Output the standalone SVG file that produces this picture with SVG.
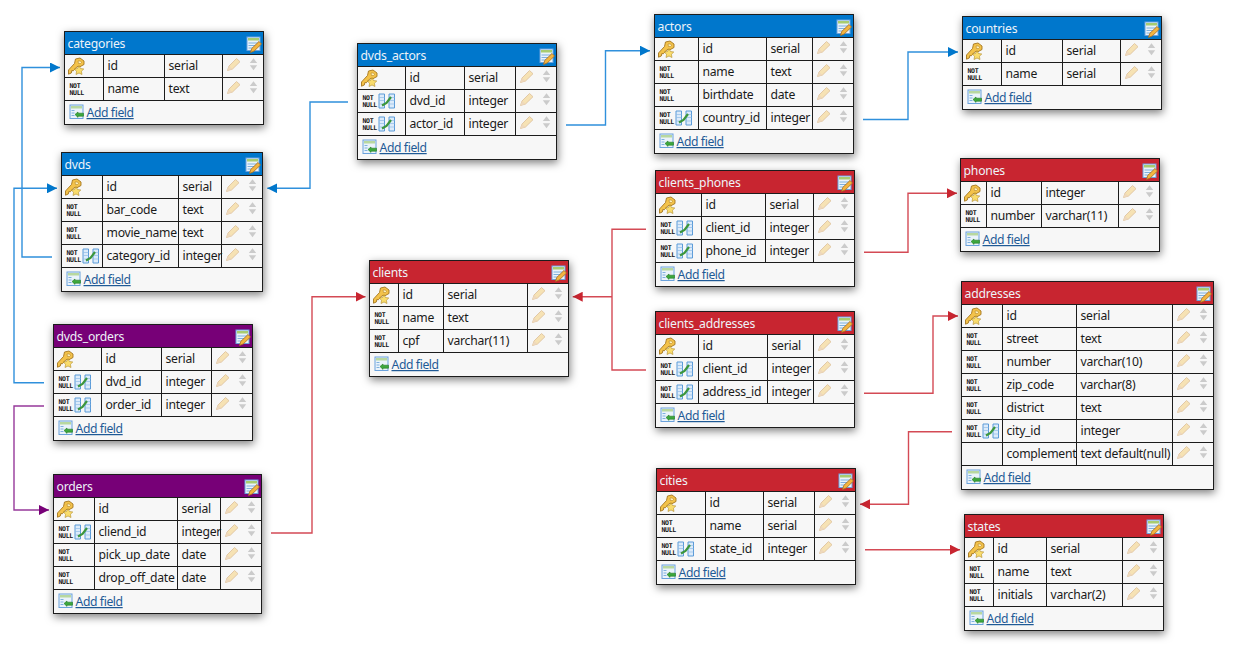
<svg xmlns="http://www.w3.org/2000/svg" width="1237" height="648" viewBox="0 0 1237 648">
<style>
text{font-family:"Noto Sans","Open Sans",sans-serif;font-size:12.2px;letter-spacing:-.25px;fill:#1a1a1a}
.title{fill:#eef3f8;font-size:12.2px;letter-spacing:-.2px}
.nn{font-family:"DejaVu Sans Mono",monospace;font-size:6.500px;font-weight:700;fill:#111;letter-spacing:-.35px}
.add{fill:#1f5a96;text-decoration:underline;letter-spacing:-.4px}
.box{fill:#f7f7f7;stroke:#2a2a2a;stroke-width:1;filter:url(#sh)}
.grid{fill:none;stroke:#1c1c1c;stroke-width:1}
.blue{fill:#0077cc}.red{fill:#c82530}.pur{fill:#770077}
.lb,.lr,.lp{fill:none;stroke-width:1.4}
.lb{stroke:#2f90dc}.lr{stroke:#d44a55}.lp{stroke:#96399a}
</style>
<defs>
<filter id="sh" x="-20%" y="-20%" width="140%" height="140%"><feDropShadow dx="1" dy="3" stdDeviation="4" flood-color="#000" flood-opacity=".5"/></filter>
<marker id="ab" markerUnits="userSpaceOnUse" markerWidth="10" markerHeight="10" refX="10" refY="5" orient="auto"><path d="M0 0L10 5L0 10z" fill="#0077cc"/></marker>
<marker id="ar" markerUnits="userSpaceOnUse" markerWidth="10" markerHeight="10" refX="10" refY="5" orient="auto"><path d="M0 0L10 5L0 10z" fill="#c82530"/></marker>
<marker id="ap" markerUnits="userSpaceOnUse" markerWidth="10" markerHeight="10" refX="10" refY="5" orient="auto"><path d="M0 0L10 5L0 10z" fill="#770077"/></marker>
<g id="key"><path d="M11 4.500L15.500 3.500L19.500 6.500V10L15.500 12.200H12.500L8.800 16.300L7.300 16L6.800 18.500L4 19.700V15.500L10 9z" fill="#f3c24a" stroke="#a5761e" stroke-width=".9"/><path d="M13.500 6.500h2.500l1 1.500-1 1h-2z" fill="#fff0b8" stroke="#a5761e" stroke-width=".5"/><path d="M14.500 11l1.500 3 3.300.5-2.400 2.300.6 3.200-3-1.500-3 1.500.6-3.200-2.400-2.300 3.300-.5z" fill="#f9dc6c" stroke="#b08a28" stroke-width=".6"/></g>
<g id="fk"><path d="M21.500 4.500h5.500v14h-5.500zM31.500 4.500h5.500v14h-5.500z" fill="#dcebfa" stroke="#5b9bd8"/><path d="M21.500 8h5.500M21.500 11h5.500M21.500 14.500h5.500M31.500 8h5.500M31.500 11h5.500M31.500 14.500h5.500" stroke="#8fbce6" stroke-width=".7"/><path d="M24.500 16L29 13.500 33.500 7.500" fill="none" stroke="#3c963c" stroke-width="2.200"/></g>
<g id="ctl"><path d="M5 16l1.500-4.500L14 4l3.500 3.200L10 14.500z" fill="#f6e2b4" stroke="#dfc4a0" stroke-width=".9"/><path d="M5 16l1.500-4.500 3.500 3z" fill="#eed8bc"/><path d="M27.300 8.500L31 3.800l3.700 4.700z M27.300 10.700L31 15.800l3.700-5.100z" fill="#cbcbcb"/></g>
<g id="edit"><rect x=".5" y=".5" width="13" height="13.500" fill="#eaf3fb" stroke="#6ba2dc"/><rect x="1.500" y="1.500" width="11" height="2.500" fill="#a8cc70"/><path d="M2 6.500h10M2 9h8M2 11.500h5" stroke="#7fb0de" stroke-width="1"/><path d="M4 16l1.200-4 7.300-7 2.500 2.500-7.300 7z" fill="#f2b540" stroke="#a36a20" stroke-width=".8"/></g>
<g id="af"><rect x="5.500" y="4.500" width="13" height="13.500" fill="#eaf3fb" stroke="#6ba2dc"/><rect x="6.500" y="5.500" width="11" height="2.500" fill="#b8d8a0"/><path d="M7 10h3M7 12.500h3M7 15h3" stroke="#7fb0de"/><path d="M10.500 14l3-2.500v1.200h5.500v3h-5.500v1.200z" fill="#3da83d" stroke="#227a22" stroke-width=".6"/></g>
</defs>
<rect width="1237" height="648" fill="#fff"/>
<g id="connectors">
<path class="lb" marker-end="url(#ab)" d="M52 257H22V67.500H60"/>
<path class="lb" marker-end="url(#ab)" d="M44 382.700H14V188.300H57"/>
<path class="lb" marker-end="url(#ab)" d="M348 102H310V188.300H267.300"/>
<path class="lb" marker-end="url(#ab)" d="M566 125H605.500V50.700H650"/>
<path class="lb" marker-end="url(#ab)" d="M863 119.500H908V52H958"/>
<path class="lp" marker-end="url(#ap)" d="M44 406H14V510H49"/>
<path class="lr" marker-end="url(#ar)" d="M271 533H312V296.700H365.500"/>
<path class="lr" marker-end="url(#ar)" d="M612 296.700H572.700"/>
<path class="lr" d="M646 229.300H612V370H646"/>
<path class="lr" marker-end="url(#ar)" d="M864 252.300H908V193.300H957"/>
<path class="lr" marker-end="url(#ar)" d="M864 393.300H933V316H958"/>
<path class="lr" marker-end="url(#ar)" d="M952 431.700H908.500V504.300H860"/>
<path class="lr" marker-end="url(#ar)" d="M865 549.700H960"/>
</g>
<g id="categories" transform="translate(64.500,31.500)">
<rect class="box" width="199" height="93"/><rect class="blue" width="199" height="23"/>
<path class="grid" d="M0 0H199V93H0zM0 23H199M0 46H199M0 69H199M39 23V69M100 23V69M158 23V69"/>
<use href="#edit" x="182" y="5"/>
<text class="title" x="3" y="16">categories</text>
<use href="#key" y="23"/><text x="43" y="38.500">id</text><text x="104" y="38.500">serial</text><use href="#ctl" x="158" y="23"/>
<text class="nn" x="5" y="56"><tspan>NOT</tspan><tspan x="5" dy="7">NULL</tspan></text><text x="43" y="61.500">name</text><text x="104" y="61.500">text</text><use href="#ctl" x="158" y="46"/>
<use href="#af" y="69"/><text class="add" x="22" y="85.500">Add field</text>
</g>
<g id="dvds" transform="translate(61.500,152.500)">
<rect class="box" width="201" height="139"/><rect class="blue" width="201" height="23"/>
<path class="grid" d="M0 0H201V139H0zM0 23H201M0 46H201M0 69H201M0 92H201M0 115H201M41 23V115M117 23V115M160 23V115"/>
<use href="#edit" x="184" y="5"/>
<text class="title" x="3" y="16">dvds</text>
<use href="#key" y="23"/><text x="45" y="38.500">id</text><text x="121" y="38.500">serial</text><use href="#ctl" x="160" y="23"/>
<text class="nn" x="5" y="56"><tspan>NOT</tspan><tspan x="5" dy="7">NULL</tspan></text><text x="45" y="61.500">bar_code</text><text x="121" y="61.500">text</text><use href="#ctl" x="160" y="46"/>
<text class="nn" x="5" y="79"><tspan>NOT</tspan><tspan x="5" dy="7">NULL</tspan></text><text x="45" y="84.500">movie_name</text><text x="121" y="84.500">text</text><use href="#ctl" x="160" y="69"/>
<text class="nn" x="5" y="102"><tspan>NOT</tspan><tspan x="5" dy="7">NULL</tspan></text><use href="#fk" y="92"/><text x="45" y="107.500">category_id</text><text x="121" y="107.500">integer</text><use href="#ctl" x="160" y="92"/>
<use href="#af" y="115"/><text class="add" x="22" y="131.500">Add field</text>
</g>
<g id="dvds_orders" transform="translate(53.500,324.500)">
<rect class="box" width="199" height="116"/><rect class="pur" width="199" height="23"/>
<path class="grid" d="M0 0H199V116H0zM0 23H199M0 46H199M0 69H199M0 92H199M48 23V92M108 23V92M158 23V92"/>
<use href="#edit" x="182" y="5"/>
<text class="title" x="3" y="16">dvds_orders</text>
<use href="#key" y="23"/><text x="52" y="38.500">id</text><text x="112" y="38.500">serial</text><use href="#ctl" x="158" y="23"/>
<text class="nn" x="5" y="56"><tspan>NOT</tspan><tspan x="5" dy="7">NULL</tspan></text><use href="#fk" y="46"/><text x="52" y="61.500">dvd_id</text><text x="112" y="61.500">integer</text><use href="#ctl" x="158" y="46"/>
<text class="nn" x="5" y="79"><tspan>NOT</tspan><tspan x="5" dy="7">NULL</tspan></text><use href="#fk" y="69"/><text x="52" y="84.500">order_id</text><text x="112" y="84.500">integer</text><use href="#ctl" x="158" y="69"/>
<use href="#af" y="92"/><text class="add" x="22" y="108.500">Add field</text>
</g>
<g id="orders" transform="translate(53.500,474.500)">
<rect class="box" width="208" height="139"/><rect class="pur" width="208" height="23"/>
<path class="grid" d="M0 0H208V139H0zM0 23H208M0 46H208M0 69H208M0 92H208M0 115H208M41 23V115M124 23V115M167 23V115"/>
<use href="#edit" x="191" y="5"/>
<text class="title" x="3" y="16">orders</text>
<use href="#key" y="23"/><text x="45" y="38.500">id</text><text x="128" y="38.500">serial</text><use href="#ctl" x="167" y="23"/>
<text class="nn" x="5" y="56"><tspan>NOT</tspan><tspan x="5" dy="7">NULL</tspan></text><use href="#fk" y="46"/><text x="45" y="61.500">cliend_id</text><text x="128" y="61.500">integer</text><use href="#ctl" x="167" y="46"/>
<text class="nn" x="5" y="79"><tspan>NOT</tspan><tspan x="5" dy="7">NULL</tspan></text><text x="45" y="84.500">pick_up_date</text><text x="128" y="84.500">date</text><use href="#ctl" x="167" y="69"/>
<text class="nn" x="5" y="102"><tspan>NOT</tspan><tspan x="5" dy="7">NULL</tspan></text><text x="45" y="107.500">drop_off_date</text><text x="128" y="107.500">date</text><use href="#ctl" x="167" y="92"/>
<use href="#af" y="115"/><text class="add" x="22" y="131.500">Add field</text>
</g>
<g id="dvds_actors" transform="translate(357.500,43.500)">
<rect class="box" width="199" height="116"/><rect class="blue" width="199" height="23"/>
<path class="grid" d="M0 0H199V116H0zM0 23H199M0 46H199M0 69H199M0 92H199M48 23V92M107 23V92M158 23V92"/>
<use href="#edit" x="182" y="5"/>
<text class="title" x="3" y="16">dvds_actors</text>
<use href="#key" y="23"/><text x="52" y="38.500">id</text><text x="111" y="38.500">serial</text><use href="#ctl" x="158" y="23"/>
<text class="nn" x="5" y="56"><tspan>NOT</tspan><tspan x="5" dy="7">NULL</tspan></text><use href="#fk" y="46"/><text x="52" y="61.500">dvd_id</text><text x="111" y="61.500">integer</text><use href="#ctl" x="158" y="46"/>
<text class="nn" x="5" y="79"><tspan>NOT</tspan><tspan x="5" dy="7">NULL</tspan></text><use href="#fk" y="69"/><text x="52" y="84.500">actor_id</text><text x="111" y="84.500">integer</text><use href="#ctl" x="158" y="69"/>
<use href="#af" y="92"/><text class="add" x="22" y="108.500">Add field</text>
</g>
<g id="clients" transform="translate(369.500,260.500)">
<rect class="box" width="199" height="116"/><rect class="red" width="199" height="23"/>
<path class="grid" d="M0 0H199V116H0zM0 23H199M0 46H199M0 69H199M0 92H199M29 23V92M74 23V92M158 23V92"/>
<use href="#edit" x="182" y="5"/>
<text class="title" x="3" y="16">clients</text>
<use href="#key" y="23"/><text x="33" y="38.500">id</text><text x="78" y="38.500">serial</text><use href="#ctl" x="158" y="23"/>
<text class="nn" x="5" y="56"><tspan>NOT</tspan><tspan x="5" dy="7">NULL</tspan></text><text x="33" y="61.500">name</text><text x="78" y="61.500">text</text><use href="#ctl" x="158" y="46"/>
<text class="nn" x="5" y="79"><tspan>NOT</tspan><tspan x="5" dy="7">NULL</tspan></text><text x="33" y="84.500">cpf</text><text x="78" y="84.500">varchar(11)</text><use href="#ctl" x="158" y="69"/>
<use href="#af" y="92"/><text class="add" x="22" y="108.500">Add field</text>
</g>
<g id="actors" transform="translate(654.500,14.500)">
<rect class="box" width="199" height="139"/><rect class="blue" width="199" height="23"/>
<path class="grid" d="M0 0H199V139H0zM0 23H199M0 46H199M0 69H199M0 92H199M0 115H199M44 23V115M112 23V115M158 23V115"/>
<use href="#edit" x="182" y="5"/>
<text class="title" x="3" y="16">actors</text>
<use href="#key" y="23"/><text x="48" y="38.500">id</text><text x="116" y="38.500">serial</text><use href="#ctl" x="158" y="23"/>
<text class="nn" x="5" y="56"><tspan>NOT</tspan><tspan x="5" dy="7">NULL</tspan></text><text x="48" y="61.500">name</text><text x="116" y="61.500">text</text><use href="#ctl" x="158" y="46"/>
<text class="nn" x="5" y="79"><tspan>NOT</tspan><tspan x="5" dy="7">NULL</tspan></text><text x="48" y="84.500">birthdate</text><text x="116" y="84.500">date</text><use href="#ctl" x="158" y="69"/>
<text class="nn" x="5" y="102"><tspan>NOT</tspan><tspan x="5" dy="7">NULL</tspan></text><use href="#fk" y="92"/><text x="48" y="107.500">country_id</text><text x="116" y="107.500">integer</text><use href="#ctl" x="158" y="92"/>
<use href="#af" y="115"/><text class="add" x="22" y="131.500">Add field</text>
</g>
<g id="clients_phones" transform="translate(655.500,170.500)">
<rect class="box" width="199" height="116"/><rect class="red" width="199" height="23"/>
<path class="grid" d="M0 0H199V116H0zM0 23H199M0 46H199M0 69H199M0 92H199M46 23V92M110 23V92M158 23V92"/>
<use href="#edit" x="182" y="5"/>
<text class="title" x="3" y="16">clients_phones</text>
<use href="#key" y="23"/><text x="50" y="38.500">id</text><text x="114" y="38.500">serial</text><use href="#ctl" x="158" y="23"/>
<text class="nn" x="5" y="56"><tspan>NOT</tspan><tspan x="5" dy="7">NULL</tspan></text><use href="#fk" y="46"/><text x="50" y="61.500">client_id</text><text x="114" y="61.500">integer</text><use href="#ctl" x="158" y="46"/>
<text class="nn" x="5" y="79"><tspan>NOT</tspan><tspan x="5" dy="7">NULL</tspan></text><use href="#fk" y="69"/><text x="50" y="84.500">phone_id</text><text x="114" y="84.500">integer</text><use href="#ctl" x="158" y="69"/>
<use href="#af" y="92"/><text class="add" x="22" y="108.500">Add field</text>
</g>
<g id="clients_addresses" transform="translate(655.500,311.500)">
<rect class="box" width="199" height="116"/><rect class="red" width="199" height="23"/>
<path class="grid" d="M0 0H199V116H0zM0 23H199M0 46H199M0 69H199M0 92H199M43 23V92M112 23V92M158 23V92"/>
<use href="#edit" x="182" y="5"/>
<text class="title" x="3" y="16">clients_addresses</text>
<use href="#key" y="23"/><text x="47" y="38.500">id</text><text x="116" y="38.500">serial</text><use href="#ctl" x="158" y="23"/>
<text class="nn" x="5" y="56"><tspan>NOT</tspan><tspan x="5" dy="7">NULL</tspan></text><use href="#fk" y="46"/><text x="47" y="61.500">client_id</text><text x="116" y="61.500">integer</text><use href="#ctl" x="158" y="46"/>
<text class="nn" x="5" y="79"><tspan>NOT</tspan><tspan x="5" dy="7">NULL</tspan></text><use href="#fk" y="69"/><text x="47" y="84.500">address_id</text><text x="116" y="84.500">integer</text><use href="#ctl" x="158" y="69"/>
<use href="#af" y="92"/><text class="add" x="22" y="108.500">Add field</text>
</g>
<g id="cities" transform="translate(656.500,468.500)">
<rect class="box" width="199" height="116"/><rect class="red" width="199" height="23"/>
<path class="grid" d="M0 0H199V116H0zM0 23H199M0 46H199M0 69H199M0 92H199M49 23V92M107 23V92M158 23V92"/>
<use href="#edit" x="182" y="5"/>
<text class="title" x="3" y="16">cities</text>
<use href="#key" y="23"/><text x="53" y="38.500">id</text><text x="111" y="38.500">serial</text><use href="#ctl" x="158" y="23"/>
<text class="nn" x="5" y="56"><tspan>NOT</tspan><tspan x="5" dy="7">NULL</tspan></text><text x="53" y="61.500">name</text><text x="111" y="61.500">serial</text><use href="#ctl" x="158" y="46"/>
<text class="nn" x="5" y="79"><tspan>NOT</tspan><tspan x="5" dy="7">NULL</tspan></text><use href="#fk" y="69"/><text x="53" y="84.500">state_id</text><text x="111" y="84.500">integer</text><use href="#ctl" x="158" y="69"/>
<use href="#af" y="92"/><text class="add" x="22" y="108.500">Add field</text>
</g>
<g id="countries" transform="translate(962.500,16.500)">
<rect class="box" width="199" height="93"/><rect class="blue" width="199" height="23"/>
<path class="grid" d="M0 0H199V93H0zM0 23H199M0 46H199M0 69H199M39 23V69M100 23V69M158 23V69"/>
<use href="#edit" x="182" y="5"/>
<text class="title" x="3" y="16">countries</text>
<use href="#key" y="23"/><text x="43" y="38.500">id</text><text x="104" y="38.500">serial</text><use href="#ctl" x="158" y="23"/>
<text class="nn" x="5" y="56"><tspan>NOT</tspan><tspan x="5" dy="7">NULL</tspan></text><text x="43" y="61.500">name</text><text x="104" y="61.500">serial</text><use href="#ctl" x="158" y="46"/>
<use href="#af" y="69"/><text class="add" x="22" y="85.500">Add field</text>
</g>
<g id="phones" transform="translate(960.500,158.500)">
<rect class="box" width="199" height="93"/><rect class="red" width="199" height="23"/>
<path class="grid" d="M0 0H199V93H0zM0 23H199M0 46H199M0 69H199M26 23V69M81 23V69M158 23V69"/>
<use href="#edit" x="182" y="5"/>
<text class="title" x="3" y="16">phones</text>
<use href="#key" y="23"/><text x="30" y="38.500">id</text><text x="85" y="38.500">integer</text><use href="#ctl" x="158" y="23"/>
<text class="nn" x="5" y="56"><tspan>NOT</tspan><tspan x="5" dy="7">NULL</tspan></text><text x="30" y="61.500">number</text><text x="85" y="61.500">varchar(11)</text><use href="#ctl" x="158" y="46"/>
<use href="#af" y="69"/><text class="add" x="22" y="85.500">Add field</text>
</g>
<g id="addresses" transform="translate(961.500,281.500)">
<rect class="box" width="252" height="208"/><rect class="red" width="252" height="23"/>
<path class="grid" d="M0 0H252V208H0zM0 23H252M0 46H252M0 69H252M0 92H252M0 115H252M0 138H252M0 161H252M0 184H252M41 23V184M115 23V184M211 23V184"/>
<use href="#edit" x="235" y="5"/>
<text class="title" x="3" y="16">addresses</text>
<use href="#key" y="23"/><text x="45" y="38.500">id</text><text x="119" y="38.500">serial</text><use href="#ctl" x="211" y="23"/>
<text class="nn" x="5" y="56"><tspan>NOT</tspan><tspan x="5" dy="7">NULL</tspan></text><text x="45" y="61.500">street</text><text x="119" y="61.500">text</text><use href="#ctl" x="211" y="46"/>
<text class="nn" x="5" y="79"><tspan>NOT</tspan><tspan x="5" dy="7">NULL</tspan></text><text x="45" y="84.500">number</text><text x="119" y="84.500">varchar(10)</text><use href="#ctl" x="211" y="69"/>
<text class="nn" x="5" y="102"><tspan>NOT</tspan><tspan x="5" dy="7">NULL</tspan></text><text x="45" y="107.500">zip_code</text><text x="119" y="107.500">varchar(8)</text><use href="#ctl" x="211" y="92"/>
<text class="nn" x="5" y="125"><tspan>NOT</tspan><tspan x="5" dy="7">NULL</tspan></text><text x="45" y="130.500">district</text><text x="119" y="130.500">text</text><use href="#ctl" x="211" y="115"/>
<text class="nn" x="5" y="148"><tspan>NOT</tspan><tspan x="5" dy="7">NULL</tspan></text><use href="#fk" y="138"/><text x="45" y="153.500">city_id</text><text x="119" y="153.500">integer</text><use href="#ctl" x="211" y="138"/>
<text x="45" y="176.500">complement</text><text x="119" y="176.500">text default(null)</text><use href="#ctl" x="211" y="161"/>
<use href="#af" y="184"/><text class="add" x="22" y="200.500">Add field</text>
</g>
<g id="states" transform="translate(964.500,514.500)">
<rect class="box" width="199" height="116"/><rect class="red" width="199" height="23"/>
<path class="grid" d="M0 0H199V116H0zM0 23H199M0 46H199M0 69H199M0 92H199M29 23V92M82 23V92M158 23V92"/>
<use href="#edit" x="182" y="5"/>
<text class="title" x="3" y="16">states</text>
<use href="#key" y="23"/><text x="33" y="38.500">id</text><text x="86" y="38.500">serial</text><use href="#ctl" x="158" y="23"/>
<text class="nn" x="5" y="56"><tspan>NOT</tspan><tspan x="5" dy="7">NULL</tspan></text><text x="33" y="61.500">name</text><text x="86" y="61.500">text</text><use href="#ctl" x="158" y="46"/>
<text class="nn" x="5" y="79"><tspan>NOT</tspan><tspan x="5" dy="7">NULL</tspan></text><text x="33" y="84.500">initials</text><text x="86" y="84.500">varchar(2)</text><use href="#ctl" x="158" y="69"/>
<use href="#af" y="92"/><text class="add" x="22" y="108.500">Add field</text>
</g>
</svg>
